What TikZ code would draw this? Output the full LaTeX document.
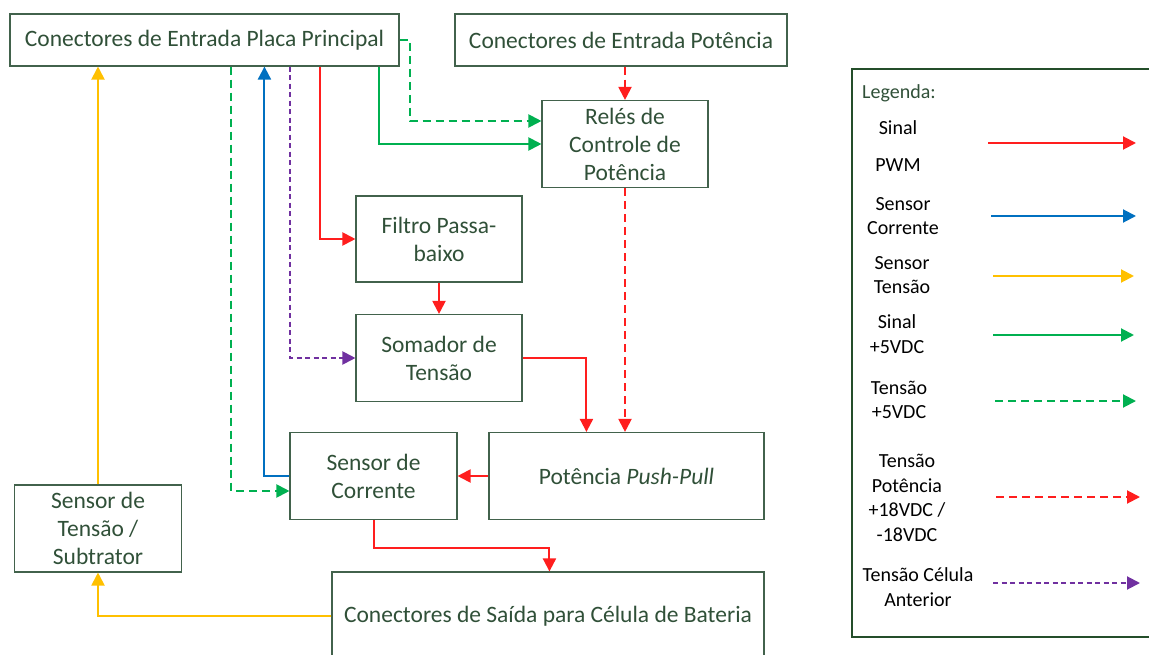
\documentclass[tikz,border=0pt]{standalone}
\usepackage{fontspec}
\setmainfont{Carlito}
\usepackage{tikz}
\usetikzlibrary{arrows.meta, positioning}

\definecolor{boxtxt}{RGB}{48,80,56}
\definecolor{boxline}{RGB}{66,98,76}
\definecolor{legline}{RGB}{36,78,42}
\definecolor{cpwm}{RGB}{255,30,30}
\definecolor{ccorr}{RGB}{0,112,192}
\definecolor{ctens}{RGB}{255,192,0}
\definecolor{csig}{RGB}{0,176,80}
\definecolor{cpurp}{RGB}{112,48,160}

\begin{document}
\begin{tikzpicture}[x=1pt, y=-1pt,
		blk/.style={draw=boxline, line width=1.1pt, text=boxtxt, align=center, inner sep=0pt,
			font=\fontsize{23.5}{28}\selectfont},
		legtxt/.style={align=center, inner sep=0pt, font=\fontsize{20}{24.5}\selectfont},
		tip/.style={-{Triangle[length=13pt, width=13pt]}},
		pwm/.style={tip, cpwm, line width=2pt},
		bcorr/.style={tip, ccorr, line width=2pt},
		ytens/.style={tip, ctens, line width=2pt},
		gsig/.style={tip, csig, line width=2pt},
		gtens/.style={tip, csig, line width=2pt, dash pattern=on 8pt off 5pt},
		pot18/.style={tip, cpwm, line width=2pt, dash pattern=on 8pt off 5pt},
		purp/.style={tip, cpurp, line width=2pt, dash pattern=on 5pt off 3.5pt}]
		\useasboundingbox (0,0) rectangle (1149,655);
		% Blocks
		\node[blk, minimum width=389, minimum height=52] (main) at (204.5,40) {Conectores de Entrada Placa Principal};
		\node[blk, minimum width=332, minimum height=52] (potin) at (621,40) {Conectores de Entrada Potência};
		\node[blk, minimum width=166, minimum height=87] (reles) at (625,144) {Relés de\\Controle de\\Potência};
		\node[blk, minimum width=166, minimum height=86] (filtro) at (439,239) {Filtro Passa-\\baixo};
		\node[blk, minimum width=166, minimum height=87] (somador) at (439,358) {Somador de\\Tensão};
		\node[blk, minimum width=167, minimum height=87] (scorr) at (373.5,476) {Sensor de\\Corrente};
		\node[blk, minimum width=275, minimum height=87] (pushpull) at (626.5,476) {Potência \textit{Push-Pull}};
		\node[blk, minimum width=167, minimum height=87] (stens) at (98,528.5) {Sensor de\\Tensão /\\Subtrator};
		\node[blk, minimum width=432, minimum height=88] (saida) at (548,616) {Conectores de Saída para Célula de Bateria};
		% Legend frame
		\draw[legline, line width=1.1pt] (852,69) rectangle (1165,637);
		\node[anchor=west, text=boxtxt, inner sep=0pt, font=\fontsize{20}{24}\selectfont] (legenda) at (862,93) {Legenda:};
		\node[legtxt] (lsinal) at (898,146) {Sinal\\[13pt]PWM};
		\node[legtxt] (lcorr) at (903,216) {Sensor\\Corrente};
		\node[legtxt] (ltens) at (902,275) {Sensor\\Tensão};
		\node[legtxt] (lsig) at (897,334) {Sinal\\+5VDC};
		\node[legtxt] (lt5) at (899,400) {Tensão\\+5VDC};
		\node[legtxt] (lt18) at (907,498) {Tensão\\Potência\\+18VDC /\\-18VDC};
		\node[legtxt] (lcel) at (918,587) {Tensão Célula\\Anterior};
		\foreach \st/\y/\xa/\xb [count=\i] in {pwm/143/988/1136, bcorr/216/991/1136, ytens/276/993/1134,
			gsig/335/993/1134, gtens/401/995/1136, pot18/497/996/1140, purp/583/993/1140} {
			\coordinate (la\i) at (\xa,\y);
			\coordinate (lb\i) at (\xb,\y);
			\draw[\st] (la\i) -- (lb\i);
		}
		% Voltage sensing back to main board
		\draw[ytens] (saida.west) -| (stens.south);
		\draw[ytens] (stens.north) -- (stens.north |- main.south);
		% Current sensing back to main board
		\draw[bcorr] (scorr.west) -| ([xshift=255pt]main.south west);
		% Supplies and signals from main board
		\draw[gtens] ([xshift=222pt]main.south west) |- ([yshift=-15pt]scorr.west);
		\draw[purp] ([xshift=281pt]main.south west) |- (somador.west);
		\draw[pwm] ([xshift=311pt]main.south west) |- (filtro.west);
		\draw[gsig] ([xshift=370pt]main.south west) |- (reles.west);
		\draw[gtens] (main.east) -- ++(10,0) |- ([yshift=23pt]reles.west);
		% Power path
		\draw[pot18] (reles.north |- potin.south) -- (reles.north);
		\draw[pot18] (reles.south) -- (reles.south |- pushpull.north);
		\draw[pwm] (filtro.south) -- (somador.north);
		\draw[pwm] (somador.east) -| ([xshift=98pt]pushpull.north west);
		\draw[pwm] (pushpull.west) -- (scorr.east);
		\draw[pwm] (scorr.south) -- ++(0,28) -| ([xshift=218pt]saida.north west);
	\end{tikzpicture}
\end{document}
